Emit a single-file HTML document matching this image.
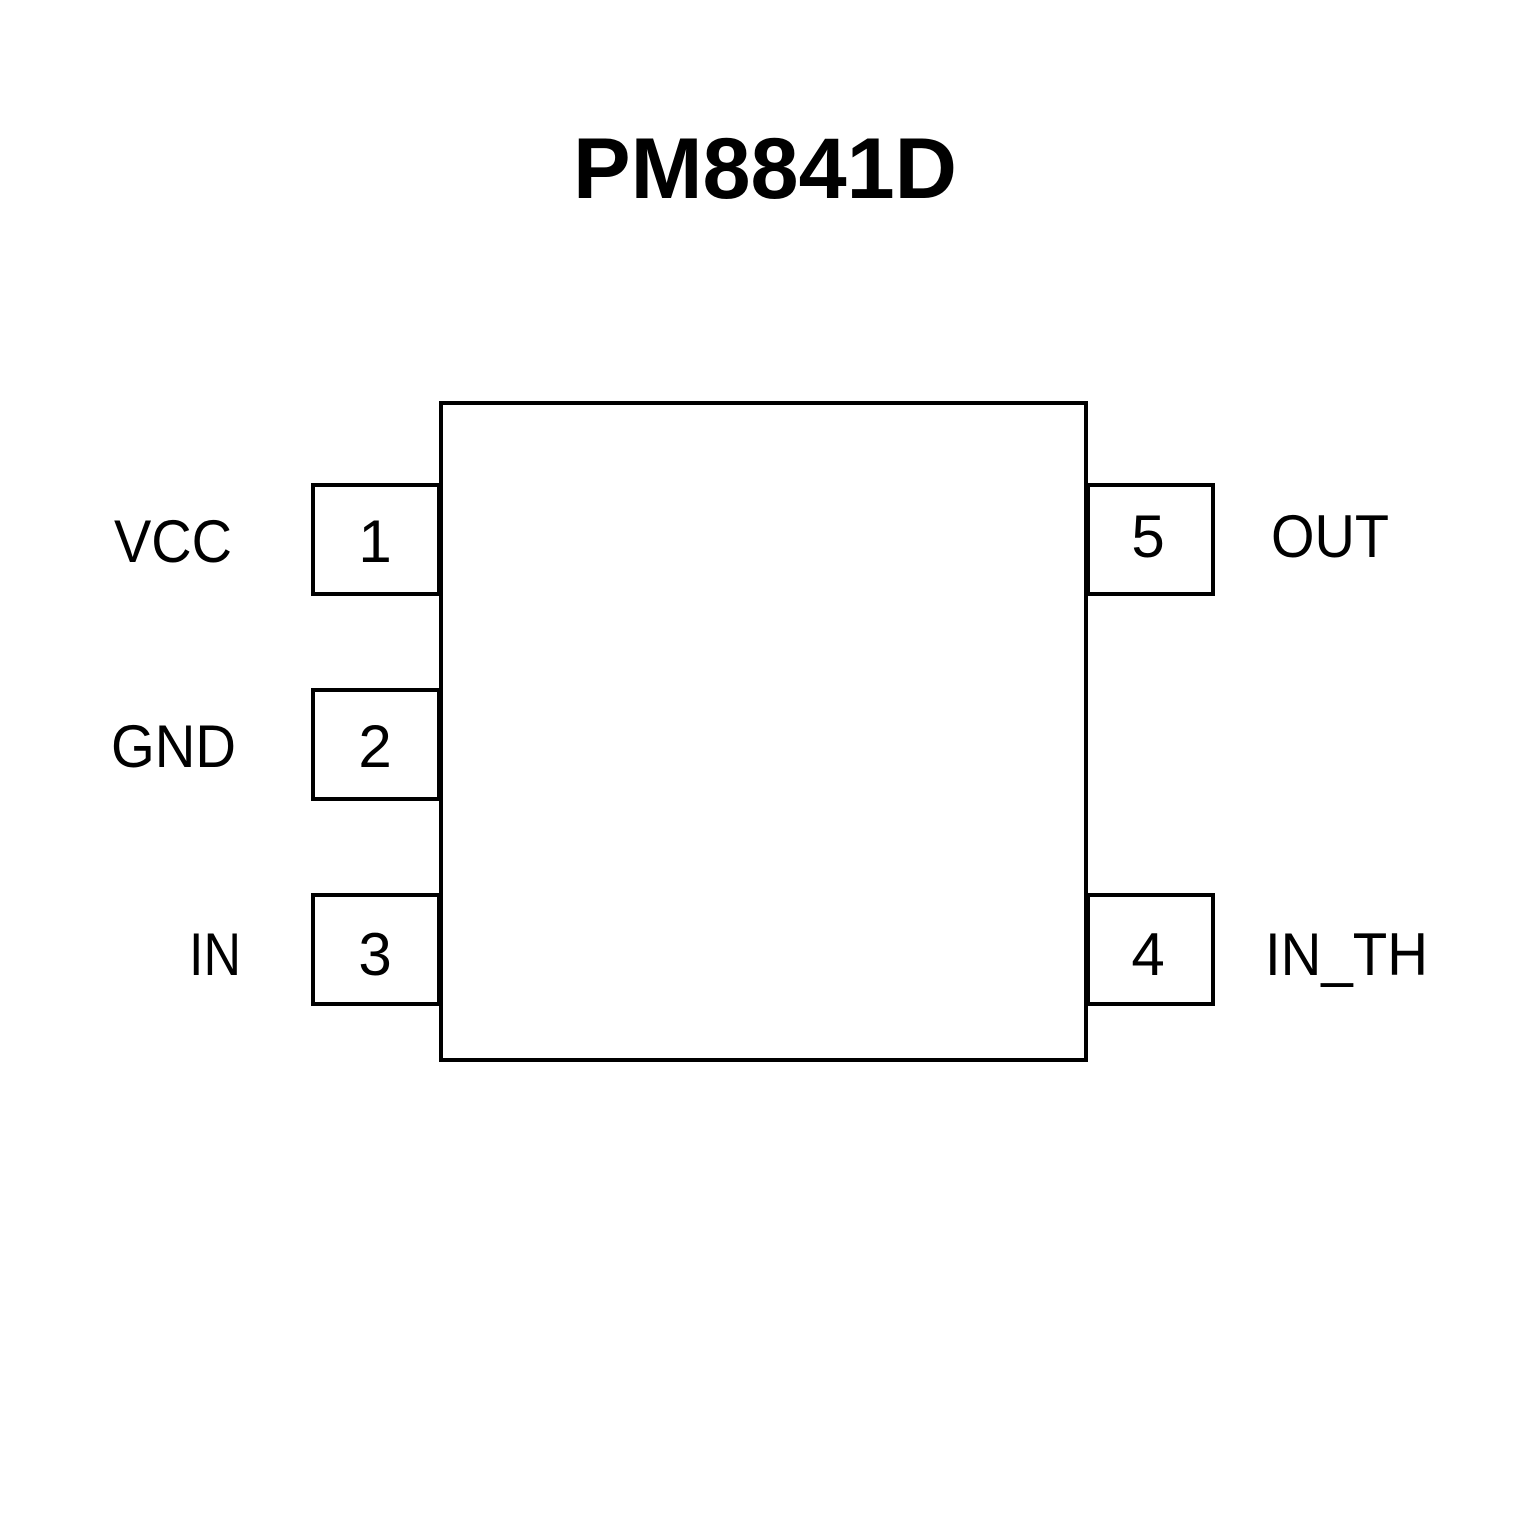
<!DOCTYPE html>
<html><head><meta charset="utf-8"><style>
html,body{margin:0;padding:0;background:#fff;}
svg{display:block;}
text{font-family:"Liberation Sans",Arial,sans-serif;fill:#000;}
</style></head><body>
<svg width="1535" height="1535" viewBox="0 0 1535 1535" xmlns="http://www.w3.org/2000/svg">
<rect width="1535" height="1535" fill="#fff"/>
<text x="765" y="198" font-size="86" font-weight="bold" text-anchor="middle" textLength="384" lengthAdjust="spacingAndGlyphs">PM8841D</text>
<g fill="none" stroke="#000" stroke-width="4">
<rect x="441" y="403" width="645" height="657"/>
<rect x="313" y="485" width="126" height="109"/>
<rect x="313" y="690" width="126" height="109"/>
<rect x="313" y="895" width="126" height="109"/>
<rect x="1088" y="485" width="125" height="109"/>
<rect x="1088" y="895" width="125" height="109"/>
</g>
<g font-size="60">
<text x="114" y="562" textLength="118" lengthAdjust="spacingAndGlyphs">VCC</text>
<text x="111" y="767" textLength="125" lengthAdjust="spacingAndGlyphs">GND</text>
<text x="189" y="975" textLength="52" lengthAdjust="spacingAndGlyphs">IN</text>
<text x="1271" y="557" textLength="118" lengthAdjust="spacingAndGlyphs">OUT</text>
<text x="1265" y="975" textLength="163" lengthAdjust="spacingAndGlyphs">IN_TH</text>
<text x="375" y="562" text-anchor="middle">1</text>
<text x="375" y="767" text-anchor="middle">2</text>
<text x="375" y="975" text-anchor="middle">3</text>
<text x="1148" y="557" text-anchor="middle">5</text>
<text x="1148" y="975" text-anchor="middle">4</text>
</g>
</svg>
</body></html>
